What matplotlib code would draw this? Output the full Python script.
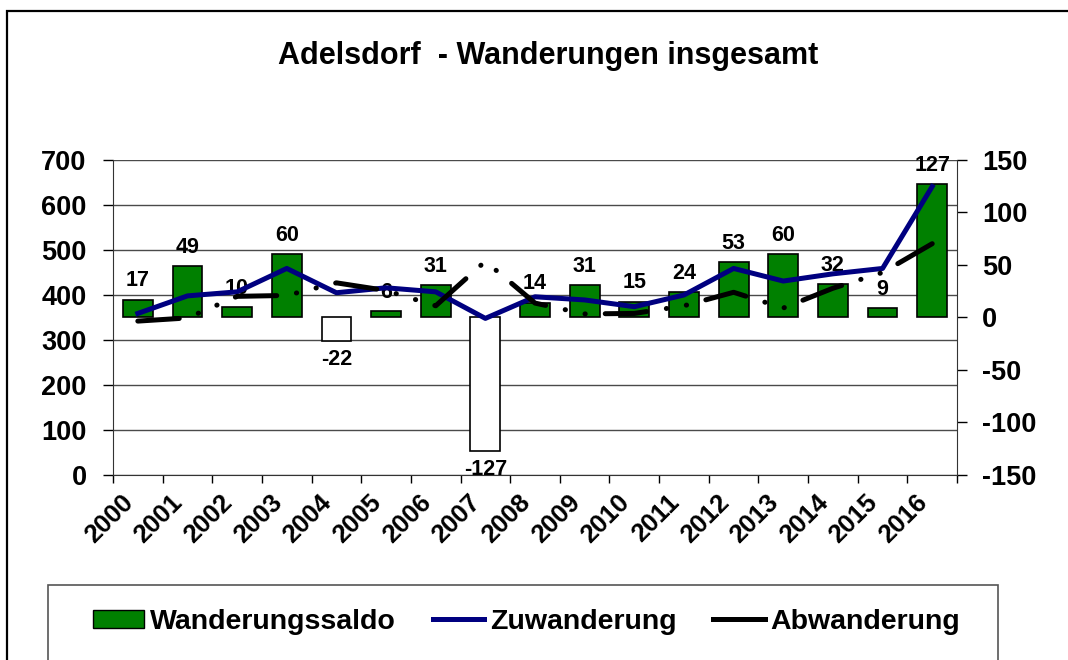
import numpy as np
import matplotlib
matplotlib.use("Agg")
import matplotlib.pyplot as plt
from matplotlib.patches import Rectangle, Patch
from matplotlib.lines import Line2D

plt.rcParams["font.family"] = ["Liberation Sans", "DejaVu Sans"]
plt.rcParams["font.weight"] = "bold"
plt.rcParams["axes.unicode_minus"] = False

years = [str(y) for y in range(2000, 2017)]
saldo = [17, 49, 10, 60, -22, 6, 31, -127, 14, 31, 15, 24, 53, 60, 32, 9, 127]
zuwanderung = [359, 398, 407, 459, 405, 416, 407, 348, 396, 389, 374, 400, 459, 431, 447, 459, 641]
abwanderung = [342, 349, 397, 399, 427, 410, 376, 475, 382, 358, 359, 376, 406, 371, 415, 450, 514]

green = "#008000"
navy = "#000080"

fig = plt.figure(figsize=(10.68, 6.6), dpi=100)
ax = fig.add_axes([0.1058, 0.2803, 0.7903, 0.4773])
ax2 = ax.twinx()
ax3 = ax.twinx()

x = np.arange(len(years))

# left axis: grid + ticks
ax.set_xlim(-0.5, len(years) - 0.5)
ax.set_ylim(0, 700)
ax.set_yticks(range(0, 701, 100))
ax.yaxis.grid(True, color="#4a4a4a", lw=1)
ax.set_axisbelow(True)
ax.tick_params(axis="y", labelsize=19.5, length=7, width=1, pad=12)
ax.set_xticks(x)
ax.set_xticklabels(years, rotation=45, ha="right", fontsize=18.5)
ax.tick_params(axis="x", length=0, pad=11)
ax.set_xticks(np.arange(-0.5, len(years), 1), minor=True)
ax.tick_params(axis="x", which="minor", length=6, width=1)
for s in ["top", "right"]:
    ax.spines[s].set_visible(False)
ax.spines["left"].set_color("#333333")
ax.spines["bottom"].set_color("#333333")

# right axis: saldo bars
ax2.set_ylim(-150, 150)
ax2.set_yticks(range(-150, 151, 50))
ax2.tick_params(axis="y", labelsize=19.5, length=7, width=1, pad=11)
for s in ["top", "left", "bottom"]:
    ax2.spines[s].set_visible(False)
ax2.spines["right"].set_color("#333333")
colors = [green if v >= 0 else "white" for v in saldo]
ax2.bar(x, saldo, width=0.6, color=colors, edgecolor="black", lw=1.2)
for xi, v in zip(x, saldo):
    if v >= 0:
        ax2.annotate(str(v), (xi, v), xytext=(0, 6), textcoords="offset points",
                     ha="center", va="bottom", fontsize=15.5, fontweight="bold")
    else:
        ax2.annotate(str(v), (xi, v), xytext=(0, -6), textcoords="offset points",
                     ha="center", va="top", fontsize=15.5, fontweight="bold")

# lines on top, left scale
ax3.set_ylim(0, 700)
ax3.axis("off")
ax3.plot(x, zuwanderung, color=navy, lw=3.6, solid_joinstyle="round")
ax3.plot(x, abwanderung, color="black", lw=3.6, dash_capstyle="round",
         linestyle=(0, (8.3, 4, 0.05, 4, 0.05, 4)))

fig.text(0.513, 0.915, "Adelsdorf  - Wanderungen insgesamt", ha="center", va="center",
         fontsize=22, fontweight="bold")

# outer frame and legend box
fig.patches.append(Rectangle((7 / 1068, -0.1), 1.2, 0.9833 + 0.1, transform=fig.transFigure,
                             fill=False, edgecolor="black", lw=1.6))
fig.patches.append(Rectangle((48 / 1068, -0.1), 950 / 1068, 0.1136 + 0.1,
                             transform=fig.transFigure, fill=False, edgecolor="#555555", lw=1.2))

handles = [Patch(facecolor=green, edgecolor="black", lw=1),
           Line2D([], [], color=navy, lw=3.6),
           Line2D([], [], color="black", lw=3.6)]
fig.legend(handles, ["Wanderungssaldo", "Zuwanderung", "Abwanderung"],
           loc="center", bbox_to_anchor=(0.493, 0.0576), ncol=3, frameon=False,
           prop={"size": 20.5, "weight": "bold"}, handlelength=1.8, handleheight=0.6,
           handletextpad=0.2, columnspacing=1.3)

fig.savefig("out.png", dpi=100)
